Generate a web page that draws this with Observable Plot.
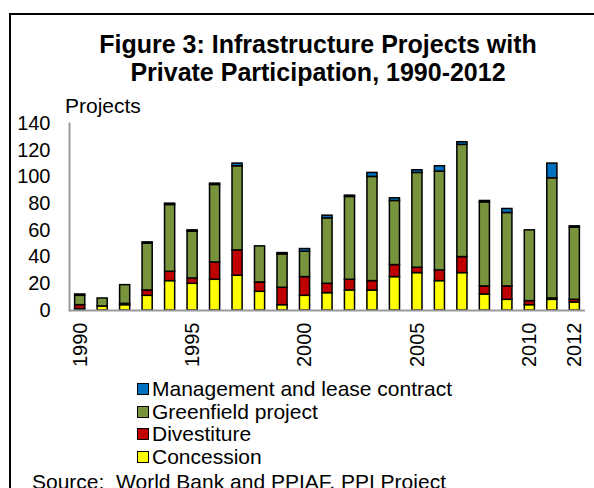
<!DOCTYPE html>
<html>
<head>
<meta charset="utf-8">
<script src="https://cdn.jsdelivr.net/npm/d3@7"></script>
<script src="https://cdn.jsdelivr.net/npm/@observablehq/plot@0.6"></script>
<style>
  html, body { margin: 0; padding: 0; background: #fff; }
  #wrap { position: relative; width: 594px; height: 488px; overflow: hidden; font-family: "Liberation Sans", Arial, sans-serif; color: #000; }
  #border { position: absolute; left: 9px; top: 13px; width: 700px; height: 600px; border-left: 2px solid #000; border-top: 2px solid #000; }
  #title { position: absolute; left: 40px; width: 556px; top: 30px; text-align: center; font-weight: bold; font-size: 25px; line-height: 28px; white-space: nowrap; }
  #ylabel { position: absolute; left: 65px; top: 95px; font-size: 21px; line-height: 21px; }
  #chart { position: absolute; left: 0; top: 100px; }
  #legend { position: absolute; left: 137px; top: 378px; font-size: 21px; line-height: 22.6px; }
  .row { display: flex; align-items: center; white-space: nowrap; height: 22.6px; }
  .sw { width: 10px; height: 10px; border: 1px solid #000; margin-right: 3px; }
  #source { position: absolute; left: 32px; top: 470px; font-size: 21px; line-height: 24px; white-space: pre; }
</style>
</head>
<body>
<div id="wrap">
  <div id="border"></div>
  <div id="title">Figure 3: Infrastructure Projects with<br>Private Participation, 1990-2012</div>
  <div id="ylabel">Projects</div>
  <div id="chart"></div>
  <div id="legend"></div>
  <div id="source">Source:  World Bank and PPIAF, PPI Project</div>
</div>
<script>
const years = [1990,1991,1992,1993,1994,1995,1996,1997,1998,1999,2000,2001,2002,2003,2004,2005,2006,2007,2008,2009,2010,2011,2012];
const concession  = [1,3,4,11,22,20,23,26,14,4,11,13,15,15,25,28,22,28,12,8,4,8,6];
const divestiture = [3,0,1,4,7,4,13,19,7,13,14,7,8,7,9,4,8,12,6,10,3,1,2];
const greenfield  = [7,6,14,35,50,35,58,63,27,25,19,49,62,78,48,71,74,84,63,55,53,90,54];
const management  = [1,0,0,1,1,1,1,2,0,1,2,2,1,3,2,2,4,2,1,3,0,11,1];
const seriesNames = ["Concession","Divestiture","Greenfield project","Management and lease contract"];
const seriesColors = ["#FFFF00","#C00000","#77933C","#0070C0"];
const yTicks = [0,20,40,60,80,100,120,140];
const xTicks = [1990,1995,2000,2005,2010,2012];
const legendOrder = ["Management and lease contract","Greenfield project","Divestiture","Concession"];

const seriesValues = [concession, divestiture, greenfield, management];
const data = [];
years.forEach((yr, i) => {
  seriesNames.forEach((name, j) => {
    data.push({year: yr, type: name, value: seriesValues[j][i]});
  });
});

const chart = Plot.plot({
  width: 594,
  height: 270,
  marginTop: 23,
  marginBottom: 60,
  marginLeft: 69,
  marginRight: 9,
  style: {fontFamily: "'Liberation Sans', Arial, sans-serif", fontSize: "20px", color: "#000", background: "transparent"},
  x: {type: "band", domain: years, paddingInner: 0.55, paddingOuter: 0.25, round: false},
  y: {domain: [0, 140]},
  color: {domain: seriesNames, range: seriesColors},
  marks: [
    Plot.barY(data, {x: "year", y: "value", fill: "type", order: seriesNames, stroke: "#000", strokeWidth: 1.5}),
    Plot.ruleY([0], {stroke: "#999", strokeWidth: 2}),
    Plot.frame({anchor: "left", stroke: "#999", strokeWidth: 2}),
    Plot.axisY({ticks: yTicks, tickSize: 0, tickPadding: 19, label: null}),
    Plot.axisX({ticks: xTicks, tickFormat: d => String(d), tickRotate: -90, tickSize: 0, tickPadding: 12, label: null})
  ]
});
document.getElementById("chart").appendChild(chart);

const legend = document.getElementById("legend");
legendOrder.forEach(name => {
  const row = document.createElement("div");
  row.className = "row";
  const sw = document.createElement("span");
  sw.className = "sw";
  sw.style.background = seriesColors[seriesNames.indexOf(name)];
  const t = document.createElement("span");
  t.textContent = name;
  row.appendChild(sw);
  row.appendChild(t);
  legend.appendChild(row);
});
</script>
</body>
</html>
